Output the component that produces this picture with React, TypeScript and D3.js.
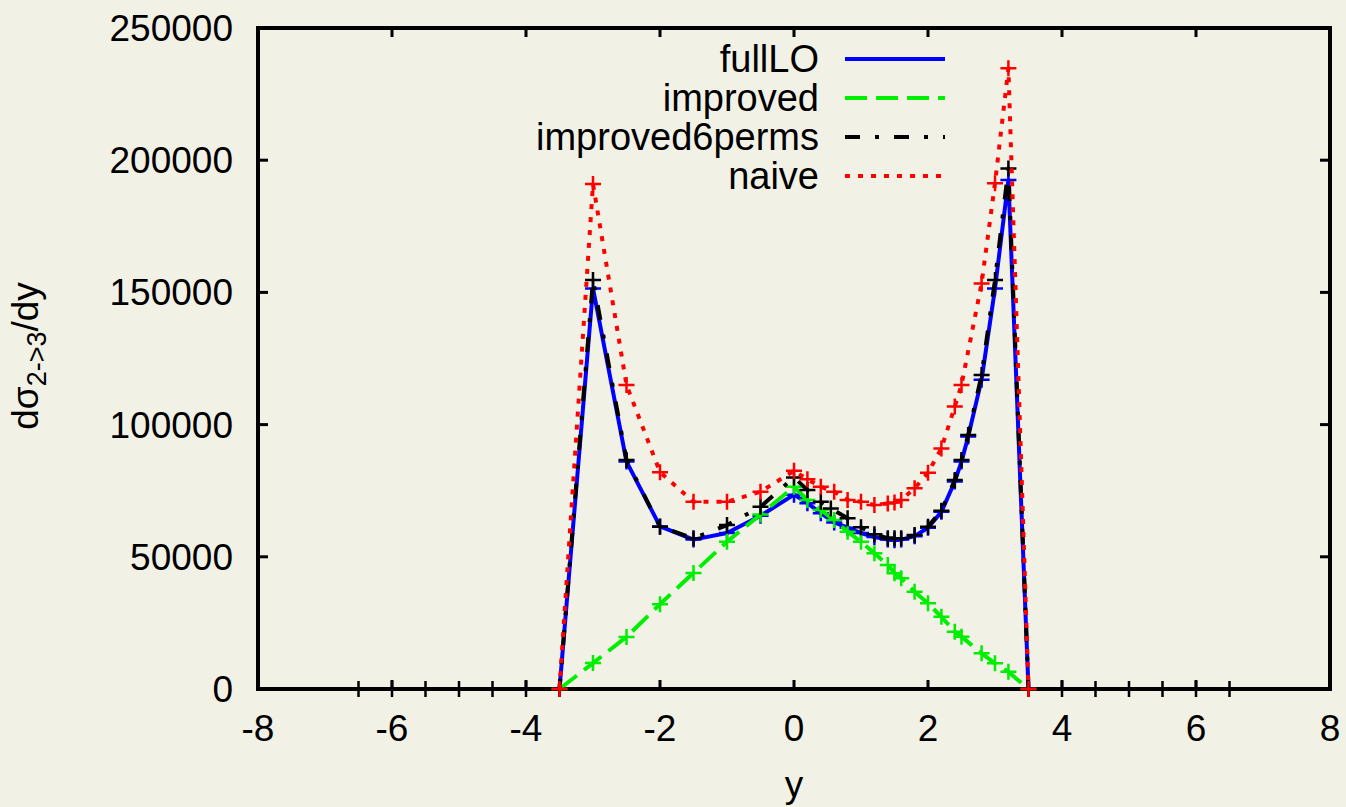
import React from "react";
import * as d3 from "d3";

// ---- data ----
const fullLOX = [-3.5, -3, -2.5, -2, -1.5, -1, -0.5, 0, 0.2, 0.4, 0.6, 0.8, 1.0, 1.2, 1.4, 1.5, 1.6, 1.8, 2.0, 2.2, 2.4, 2.5, 2.6, 2.8, 3.0, 3.2, 3.5];
const fullLOY = [0, 151500, 86000, 61500, 56500, 59000, 65500, 73500, 70300, 66500, 63000, 61000, 59000, 57500, 56500, 56300, 56500, 57800, 61000, 67000, 78500, 86000, 95500, 117000, 151500, 192500, 0];

const improvedX = [-3.5, -3, -2.5, -2, -1.5, -1, -0.5, 0, 0.2, 0.4, 0.6, 0.8, 1.0, 1.2, 1.4, 1.5, 1.6, 1.8, 2.0, 2.2, 2.4, 2.5, 2.8, 3.0, 3.2, 3.5];
const improvedY = [0, 9800, 19700, 32100, 43900, 55700, 66000, 76500, 71500, 67700, 63900, 59500, 55700, 51300, 46900, 43800, 41900, 36800, 32400, 27300, 21700, 19800, 13500, 9700, 6500, 0];

const perms6X = [-6.5, -6, -5.5, -5, -4.5, -4, -3.5, -3, -2.5, -2, -1.5, -1, -0.5, 0, 0.2, 0.4, 0.55, 0.8, 1.0, 1.2, 1.4, 1.5, 1.6, 1.8, 2.0, 2.2, 2.4, 2.5, 2.6, 2.8, 3.0, 3.2, 3.5, 4, 4.5, 5, 5.5, 6, 6.5];
const perms6Y = [0, 0, 0, 0, 0, 0, 0, 154700, 86600, 61400, 57000, 62000, 68900, 80000, 75300, 70800, 68300, 64600, 61200, 58500, 57000, 57000, 57000, 58200, 61400, 67400, 79000, 86600, 96100, 118800, 154700, 196900, 0, 0, 0, 0, 0, 0, 0];

const naiveX = [-3.5, -3, -2.5, -2, -1.5, -1, -0.5, 0, 0.2, 0.4, 0.6, 0.8, 1.0, 1.2, 1.4, 1.5, 1.6, 1.8, 2.0, 2.2, 2.4, 2.5, 2.8, 3.0, 3.2, 3.5];
const naiveY = [0, 191000, 115000, 82000, 70800, 70800, 74600, 82500, 79300, 76500, 74600, 71500, 70800, 69600, 70200, 70500, 71500, 75900, 81800, 91000, 106800, 115000, 153400, 191300, 234800, 0];

const xTicks = [-8, -6, -4, -2, 0, 2, 4, 6, 8];
const yTicks = [0, 50000, 100000, 150000, 200000, 250000];

const seriesNames = ["fullLO", "improved", "improved6perms", "naive"];
const seriesColors = ["#0000ff", "#00ee00", "#000000", "#ff0000"];
const seriesDash = ["none", "22,9", "15,15,4,15", "5,8"];

// ---- layout ----
const W = 1346;
const H = 807;
const L = 258, R = 1330, T = 28, B = 689;
const FONT = "'Liberation Sans', Arial, Helvetica, sans-serif";
const FS = 37;

export default function App() {
  const x = d3.scaleLinear().domain([-8, 8]).range([L, R]);
  const y = d3.scaleLinear().domain([0, 250000]).range([B, T]);

  const series = [
    { xs: fullLOX, ys: fullLOY },
    { xs: improvedX, ys: improvedY },
    { xs: perms6X, ys: perms6Y },
    { xs: naiveX, ys: naiveY },
  ];

  const line = d3
    .line<[number, number]>()
    .x((d) => x(d[0]))
    .y((d) => y(d[1]));

  const arm = 8;

  return (
    <svg
      width={W}
      height={H}
      style={{ position: "absolute", left: 0, top: 0, background: "#f2f1e6" }}
      fontFamily={FONT}
    >
      <rect x={0} y={0} width={W} height={H} fill="#f2f1e6" />

      {/* frame */}
      <rect x={L} y={T} width={R - L} height={B - T} fill="none" stroke="#000" strokeWidth={4} />

      {/* x ticks */}
      {xTicks.map((t) => (
        <g key={"xt" + t}>
          <line x1={x(t)} x2={x(t)} y1={B} y2={B - 9} stroke="#000" strokeWidth={3} />
          <line x1={x(t)} x2={x(t)} y1={T} y2={T + 9} stroke="#000" strokeWidth={3} />
          <text x={x(t)} y={741} textAnchor="middle" fontSize={FS} fill="#000">
            {t}
          </text>
        </g>
      ))}

      {/* y ticks */}
      {yTicks.map((t) => (
        <g key={"yt" + t}>
          <line x1={L} x2={L + 10} y1={y(t)} y2={y(t)} stroke="#000" strokeWidth={3} />
          <line x1={R} x2={R - 10} y1={y(t)} y2={y(t)} stroke="#000" strokeWidth={3} />
          <text x={233} y={y(t) + 13} textAnchor="end" fontSize={FS} fill="#000">
            {t}
          </text>
        </g>
      ))}

      {/* axis titles */}
      <text x={794} y={797} textAnchor="middle" fontSize={FS} fill="#000">
        y
      </text>
      <text
        transform="translate(38,356) rotate(-90)"
        textAnchor="middle"
        fontSize={FS}
        fill="#000"
      >
        dσ
        <tspan fontSize={27} dy={8}>
          2-&gt;3
        </tspan>
        <tspan dy={-8}>/dy</tspan>
      </text>

      {/* series */}
      {series.map((s, i) => {
        const pts: [number, number][] = s.xs.map((v, k) => [v, s.ys[k]]);
        return (
          <g key={"s" + i}>
            <path
              d={line(pts) || ""}
              fill="none"
              stroke={seriesColors[i]}
              strokeWidth={4}
              strokeDasharray={seriesDash[i]}
              strokeLinejoin="round"
            />
            {pts.map((p, k) => (
              <path
                key={k}
                d={`M${x(p[0]) - arm},${y(p[1])}H${x(p[0]) + arm}M${x(p[0])},${y(p[1]) - arm}V${y(p[1]) + arm}`}
                stroke={seriesColors[i]}
                strokeWidth={2.5}
                fill="none"
              />
            ))}
          </g>
        );
      })}

      {/* legend */}
      {seriesNames.map((n, i) => {
        const ly = 59 + i * 39;
        return (
          <g key={"lg" + i}>
            <text x={819} y={ly + 13} textAnchor="end" fontSize={38} fill="#000">
              {n}
            </text>
            <line
              x1={845}
              x2={945}
              y1={ly}
              y2={ly}
              stroke={seriesColors[i]}
              strokeWidth={4}
              strokeDasharray={seriesDash[i]}
            />
          </g>
        );
      })}
    </svg>
  );
}
